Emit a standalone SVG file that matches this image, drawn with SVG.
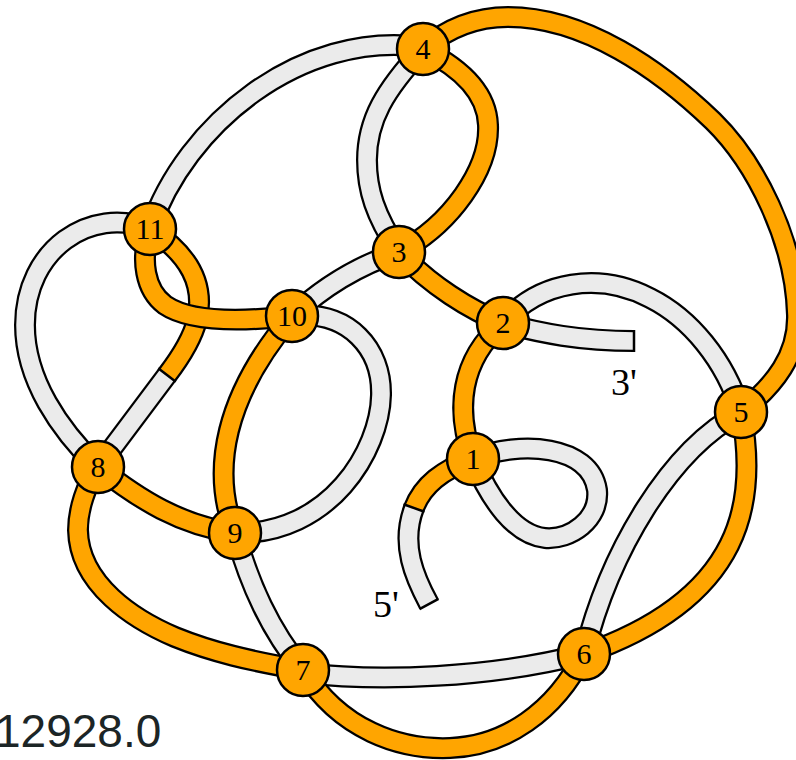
<svg xmlns="http://www.w3.org/2000/svg" width="796" height="760" viewBox="0 0 796 760">
<style>
.e{fill:none;stroke-linecap:butt}
.k{stroke:#000;stroke-width:22}
.g{stroke:#ebebeb;stroke-width:17.5}
.o{stroke:#ffa500;stroke-width:17.5}
.cap{stroke:#000;stroke-width:2.5;fill:none}
.n circle{fill:#ffa500;stroke:#000;stroke-width:2.5}
.n text{font-family:"Liberation Serif","Times New Roman",serif;font-size:30px;fill:#000;text-anchor:middle}
.l{font-family:"Liberation Serif","Times New Roman",serif;font-size:38px;fill:#000}
.t{font-family:"Liberation Sans",Arial,sans-serif;font-size:46px;fill:#1c2526}
</style>
<defs>
<path id="a1" d="M429,604C415,578 400,545 414,508"/>
<path id="a2" d="M414,508C423,485 442,470 473,459"/>
<path id="a3" d="M473,459C455,410 460,360 503,323"/>
<path id="a4" d="M503,323C470,310 430,285 399,252"/>
<path id="a5" d="M399,252C450,225 490,170 488,125C487,95 465,70 423,49"/>
<path id="a6" d="M423,49C450,26 478,17 508,17C585,17 660,70 713,121C755,162 795,240 797,315C798,355 775,385 741,412"/>
<path id="a7" d="M741,412C758,500 745,598 584,654"/>
<path id="a8" d="M303,670C340,730 400,750 450,748C505,746 555,712 584,654"/>
<path id="a9" d="M303,670C250,661 212,652 175,637C135,620 79,585 78,530C78,510 86,485 98,467"/>
<path id="a10" d="M98,467C140,500 180,525 235,533"/>
<path id="a11" d="M235,533C210,470 225,395 292,316"/>
<path id="a12" d="M292,316C240,322 190,322 165,305C145,290 140,260 150,229"/>
<path id="a13" d="M150,229C190,255 205,285 197,320C192,340 180,358 167,375"/>
<path id="a14" d="M167,375L98,467"/>
<path id="b1" d="M150,229C185,125 300,30 423,47"/>
<path id="b2" d="M399,252C375,215 367,190 367,160C367,120 385,90 423,49"/>
<path id="b3" d="M399,252C360,265 325,285 292,316"/>
<path id="b4" d="M292,316C350,310 382,350 381,395C380,450 330,535 235,533"/>
<path id="b5" d="M150,229C90,205 25,250 25,325C25,380 60,430 98,467"/>
<path id="b6" d="M503,323C540,280 600,272 650,298C690,318 725,360 741,412"/>
<path id="b7" d="M503,323C540,333 580,341 634,341"/>
<path id="b8" d="M473,459C520,440 590,445 597,490C600,520 570,540 545,538C515,535 490,500 473,459"/>
<path id="b9" d="M741,412C670,450 610,550 584,654"/>
<path id="b10" d="M303,673C380,682 490,678 584,654"/>
<path id="b11" d="M235,533C250,585 270,630 303,670"/>
</defs>
<g id="connectors">
<g class="e k"><use href="#b1"/><use href="#b2"/><use href="#b3"/><use href="#b4"/><use href="#b5"/><use href="#b6"/><use href="#b7"/><use href="#b8"/><use href="#b9"/><use href="#b10"/><use href="#b11"/></g>
<g class="e g"><use href="#b1"/><use href="#b2"/><use href="#b3"/><use href="#b4"/><use href="#b5"/><use href="#b6"/><use href="#b7"/><use href="#b8"/><use href="#b9"/><use href="#b10"/><use href="#b11"/></g>
<g class="e k"><use href="#a1"/><use href="#a14"/></g>
<g class="e g"><use href="#a1"/><use href="#a14"/></g>
<g class="e k"><use href="#a2"/><use href="#a3"/><use href="#a4"/><use href="#a5"/><use href="#a6"/><use href="#a7"/><use href="#a8"/><use href="#a9"/><use href="#a10"/><use href="#a11"/><use href="#a13"/></g>
<g class="e o"><use href="#a2"/><use href="#a3"/><use href="#a4"/><use href="#a5"/><use href="#a6"/><use href="#a7"/><use href="#a8"/><use href="#a9"/><use href="#a10"/><use href="#a11"/><use href="#a13"/></g>
<use href="#a12" class="e k"/>
<use href="#a12" class="e o"/>
<path class="cap" d="M634,330V352M419.500,609.200L438.500,598.800M403.500,504.200L424.500,511.800M158.200,368.300L175.800,381.700"/>
</g>
<g id="node1" class="n"><circle cx="473" cy="459" r="26"/><text x="473" y="469">1</text></g>
<g id="node2" class="n"><circle cx="503" cy="323" r="26"/><text x="503" y="333">2</text></g>
<g id="node3" class="n"><circle cx="399" cy="252" r="26"/><text x="399" y="262">3</text></g>
<g id="node4" class="n"><circle cx="423" cy="49" r="26"/><text x="423" y="59">4</text></g>
<g id="node5" class="n"><circle cx="741" cy="412" r="26"/><text x="741" y="422">5</text></g>
<g id="node6" class="n"><circle cx="584" cy="654" r="26"/><text x="584" y="664">6</text></g>
<g id="node7" class="n"><circle cx="303" cy="670" r="26"/><text x="303" y="680">7</text></g>
<g id="node8" class="n"><circle cx="98" cy="467" r="26"/><text x="98" y="477">8</text></g>
<g id="node9" class="n"><circle cx="235" cy="533" r="26"/><text x="235" y="543">9</text></g>
<g id="node10" class="n"><circle cx="292" cy="316" r="26"/><text x="292" y="326">10</text></g>
<g id="node11" class="n"><circle cx="150" cy="229" r="26"/><text x="150" y="239">11</text></g>
<text class="l" x="611" y="395">3'</text>
<text class="l" x="373" y="617">5'</text>
<text class="t" x="-5" y="747">12928.0</text>
</svg>
